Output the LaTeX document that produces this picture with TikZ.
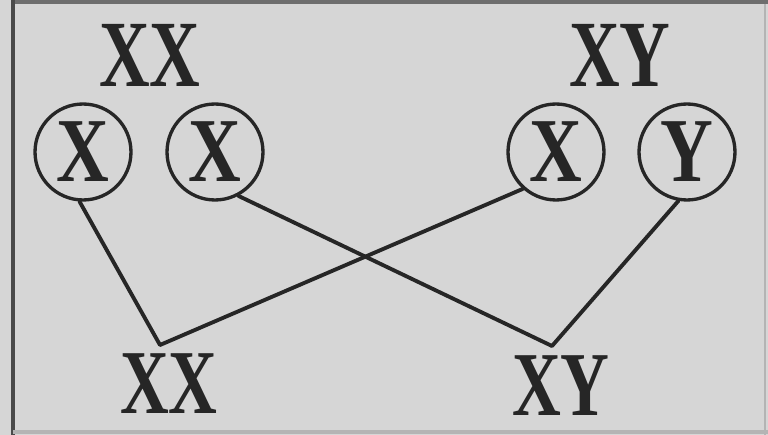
\documentclass[tikz,border=0pt]{standalone}
\usepackage{fontspec}
\setmainfont{Liberation Serif}
\usepackage{graphicx}
\definecolor{bg}{HTML}{D6D6D6}
\definecolor{ink}{HTML}{262626}
\definecolor{frameL}{HTML}{4A4A4A}
\definecolor{frameT}{HTML}{6E6E6E}
\definecolor{frameR}{HTML}{B4B4B4}
\tikzset{
  biglabel/.style={inner sep=0pt, text=ink, font=\fontsize{54}{54}\selectfont\bfseries},
  gene/.style={circle, draw=ink, line width=1.9pt, minimum size=1.92cm, inner sep=0pt, text=ink,
               font=\fontsize{52}{52}\selectfont\bfseries},
  link/.style={draw=ink, line width=2.2pt, line cap=round}
}
\begin{document}
\begin{tikzpicture}[x=0.02cm, y=-0.02cm]
\useasboundingbox (0,0) rectangle (768,435);
\fill[bg] (0,0) rectangle (768,435);
% frame
\draw[frameT, line width=2.5pt] (12,2) -- (768,2);
\draw[frameL, line width=2.6pt] (13,0) -- (13,435);
\draw[frameR, line width=1.5pt] (765,4) -- (765,435);
\draw[frameR, line width=1.8pt] (13,432) -- (768,432);
% top labels
\node[biglabel] (pXX) at (150,55) {\scalebox{0.74}[1]{XX}};
\node[biglabel] (pXY) at (620,55) {\scalebox{0.74}[1]{XY}};
% gamete circles
\node[gene] (c1) at (83,152) {\scalebox{0.8}[1]{X}};
\node[gene] (c2) at (215,152) {\scalebox{0.8}[1]{X}};
\node[gene] (c3) at (556,152) {\scalebox{0.8}[1]{X}};
\node[gene] (c4) at (687,152) {\scalebox{0.8}[1]{Y}};
% offspring apexes
\coordinate (a1) at (160,345);
\coordinate (a2) at (552,346);
% connectors
\draw[link] (c1.-94) -- (a1);
\draw[link] (c3.-132) -- (a1);
\draw[link] (c2.-62) -- (a2);
\draw[link] (c4.-100) -- (a2);
% offspring labels
\node[biglabel, font=\fontsize{52}{52}\selectfont\bfseries] (oXX) at (169,384) {\scalebox{0.74}[1]{XX}};
\node[biglabel, font=\fontsize{52}{52}\selectfont\bfseries] (oXY) at (561,386) {\scalebox{0.74}[1]{XY}};
\end{tikzpicture}
\end{document}
